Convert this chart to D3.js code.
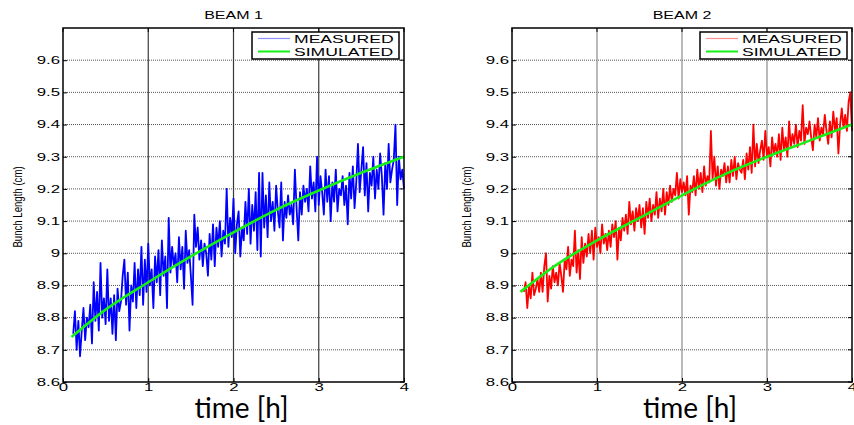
<html lang="en">
  <head>
    <meta charset="utf-8" />
    <title>Bunch length - Beam 1 / Beam 2</title>
    <script src="https://cdnjs.cloudflare.com/ajax/libs/d3/7.8.5/d3.min.js"></script>
    <style>
      body { margin: 0; background: #fff; }
      svg { display: block; }
    </style>
  </head>
  <body>
    <script type="text/javascript">
      /*************************** Data ***************************/

      var panelTitles = ["BEAM 1", "BEAM 2"];
      var legendLabels = ["MEASURED", "SIMULATED"];
      var xTicks = [0, 1, 2, 3, 4];
      var yTicks = [8.6, 8.7, 8.8, 8.9, 9, 9.1, 9.2, 9.3, 9.4, 9.5, 9.6];
      var yTickLabels = ["8.6", "8.7", "8.8", "8.9", "9", "9.1", "9.2", "9.3", "9.4", "9.5", "9.6"];

      var beam1Start = 0.12, beam2Start = 0.14, sampleStep = 0.02;
      var beam1Measured = [
        8.75, 8.82, 8.70, 8.79, 8.68, 8.76, 8.83, 8.73, 8.80, 8.77,
        8.84, 8.72, 8.91, 8.79, 8.88, 8.76, 8.97, 8.80, 8.86, 8.78,
        8.95, 8.79, 8.86, 8.75, 8.87, 8.73, 8.89, 8.82, 8.85, 8.93,
        8.98, 8.84, 8.94, 8.76, 8.90, 8.85, 8.97, 8.83, 8.95, 8.87,
        9.02, 8.84, 8.98, 8.88, 9.03, 8.90, 8.95, 8.83, 8.99, 8.91,
        9.01, 8.87, 9.04, 8.93, 8.99, 8.83, 9.11, 8.94, 9.02, 8.96,
        9.00, 8.91, 9.05, 8.95, 9.02, 8.89, 9.07, 8.97, 9.01, 8.93,
        8.84, 9.12, 9.02, 9.08, 8.98, 9.04, 8.96, 9.03, 9.00, 8.93,
        9.06, 8.98, 9.09, 8.96, 9.08, 9.02, 9.10, 8.99, 9.07, 9.03,
        9.20, 9.02, 9.11, 9.05, 9.17, 9.00, 9.09, 9.13, 8.99, 9.08,
        9.04, 9.16, 9.06, 9.20, 9.03, 9.15, 9.07, 9.19, 9.01, 9.25,
        8.99, 9.25, 9.08, 9.18, 9.05, 9.22, 9.10, 9.16, 9.07, 9.21,
        9.13, 9.08, 9.22, 9.04, 9.16, 9.11, 9.18, 9.12, 9.15, 9.09,
        9.26, 9.14, 9.04, 9.19, 9.12, 9.21, 9.16, 9.20, 9.13, 9.27,
        9.17, 9.22, 9.13, 9.30, 9.15, 9.24, 9.19, 9.12, 9.26, 9.16,
        9.24, 9.10, 9.22, 9.16, 9.26, 9.13, 9.20, 9.18, 9.24, 9.15,
        9.21, 9.09, 9.25, 9.17, 9.27, 9.14, 9.22, 9.34, 9.19, 9.26,
        9.33, 9.18, 9.28, 9.13, 9.25, 9.21, 9.30, 9.17, 9.26, 9.20,
        9.31, 9.24, 9.12, 9.28, 9.20, 9.34, 9.22, 9.26, 9.29, 9.40,
        9.15, 9.30, 9.23, 9.26, 9.20
      ];
      var beam2Measured = [
        8.88, 8.91, 8.83, 8.90, 8.86, 8.94, 8.87, 8.89, 8.92, 8.88,
        8.94, 8.88, 8.96, 9.00, 8.85, 8.93, 8.89, 8.96, 8.91, 8.94,
        8.90, 8.97, 8.93, 8.88, 8.98, 8.95, 9.02, 8.93, 8.98, 8.96,
        9.07, 8.94, 9.01, 8.92, 9.05, 8.97, 9.03, 8.99, 9.06, 9.00,
        9.07, 8.98, 9.08, 9.02, 9.05, 9.00, 9.09, 9.03, 9.06, 9.01,
        9.07, 9.02, 9.09, 9.05, 9.10, 8.98, 9.08, 9.04, 9.11, 9.07,
        9.12, 9.06, 9.16, 9.09, 9.13, 9.07, 9.14, 9.10, 9.15, 9.08,
        9.14, 9.06, 9.16, 9.11, 9.17, 9.10, 9.15, 9.12, 9.19, 9.11,
        9.17, 9.13, 9.20, 9.12, 9.19, 9.15, 9.21, 9.16, 9.20, 9.18,
        9.25, 9.17, 9.23, 9.19, 9.22, 9.18, 9.24, 9.12, 9.21, 9.19,
        9.24, 9.18, 9.26, 9.20, 9.25, 9.19, 9.27, 9.21, 9.24, 9.22,
        9.38, 9.23, 9.30, 9.21, 9.27, 9.20, 9.26, 9.24, 9.28, 9.22,
        9.27, 9.22, 9.29, 9.24, 9.30, 9.23, 9.28, 9.26, 9.25, 9.29,
        9.23, 9.31, 9.26, 9.33, 9.25, 9.40, 9.27, 9.34, 9.28, 9.32,
        9.35, 9.29, 9.38, 9.30, 9.33, 9.27, 9.36, 9.31, 9.34, 9.30,
        9.37, 9.29, 9.39, 9.32, 9.36, 9.30, 9.41, 9.33, 9.37, 9.34,
        9.40, 9.33, 9.38, 9.35, 9.46, 9.34, 9.39, 9.37, 9.41, 9.36,
        9.32, 9.40, 9.36, 9.42, 9.35, 9.39, 9.37, 9.43, 9.38, 9.34,
        9.41, 9.36, 9.44, 9.38, 9.42, 9.31, 9.40, 9.45, 9.39, 9.43,
        9.38, 9.47, 9.50, 9.38
      ];

      var simTime = [0.1, 0.5, 1, 1.5, 2, 2.5, 3, 3.5, 4];
      var beam1Simulated = [8.74, 8.825, 8.91, 8.99, 9.065, 9.135, 9.195, 9.25, 9.30];
      var beam2Simulated = [8.88, 8.96, 9.04, 9.11, 9.18, 9.245, 9.30, 9.35, 9.40];

      /*************************** Canvas ***************************/

      var W = 854, H = 425;
      var svg = d3.select("body").append("svg")
        .attr("width", W).attr("height", H)
        .style("font-family", "'Liberation Sans', Arial, sans-serif");

      var SX = 1.6; // the original picture is squashed vertically

      function toPoints(start, vals) {
        return vals.map(function (v, i) { return [start + i * sampleStep, v]; });
      }

      var panels = [
        { left: 63, right: 404, title: panelTitles[0], color: "#0000ff", legendColor: "#8f8fff",
          gridColor: "#3a3a3a", meas: toPoints(beam1Start, beam1Measured), sim: beam1Simulated, ylab: 22 },
        { left: 512, right: 852, title: panelTitles[1], color: "#ff0000", legendColor: "#ff9090",
          gridColor: "#8a8a8a", meas: toPoints(beam2Start, beam2Measured), sim: beam2Simulated, ylab: 471 }
      ];

      var plotTop = 28, plotBottom = 382;

      panels.forEach(function (p) {
        var x = d3.scaleLinear().domain([0, 4]).range([p.left, p.right]);
        var y = d3.scaleLinear().domain([8.6, 9.7]).range([plotBottom, plotTop]);
        var g = svg.append("g");

        // grid
        g.selectAll(".hgrid").data(yTicks.slice(1)).enter().append("line")
          .attr("x1", p.left).attr("x2", p.right)
          .attr("y1", function (d) { return y(d); }).attr("y2", function (d) { return y(d); })
          .attr("stroke", "#555").attr("stroke-width", 1).attr("stroke-dasharray", "1,1");
        g.selectAll(".vgrid").data(xTicks.slice(1, 4)).enter().append("line")
          .attr("y1", plotTop).attr("y2", plotBottom)
          .attr("x1", function (d) { return x(d); }).attr("x2", function (d) { return x(d); })
          .attr("stroke", p.gridColor).attr("stroke-width", 1.2);

        // axes with inward ticks
        var ya = g.append("g").attr("transform", "translate(" + p.left + ",0)")
          .call(d3.axisLeft(y).tickValues(yTicks).tickSizeInner(-4).tickSizeOuter(0).tickPadding(3)
            .tickFormat(function (d, i) { return yTickLabels[i]; }));
        ya.select(".domain").remove();
        ya.selectAll("text").attr("font-size", 10.5).attr("font-family", "'Liberation Sans', Arial, sans-serif")
          .attr("fill", "#000")
          .attr("transform", "scale(" + SX + ",1)")
          .attr("x", -3 / SX);

        var xa = g.append("g").attr("transform", "translate(0," + plotBottom + ")")
          .call(d3.axisBottom(x).tickValues(xTicks).tickSizeInner(-4).tickSizeOuter(0).tickPadding(2)
            .tickFormat(d3.format("d")));
        xa.select(".domain").remove();
        xa.selectAll("text").attr("font-size", 10.5).attr("font-family", "'Liberation Sans', Arial, sans-serif")
          .attr("fill", "#000").attr("transform", "scale(" + SX + ",1)");

        // right/top ticks
        g.selectAll(".rt").data(yTicks).enter().append("line")
          .attr("x1", p.right).attr("x2", p.right - 4)
          .attr("y1", function (d) { return y(d); }).attr("y2", function (d) { return y(d); })
          .attr("stroke", "#000");
        g.selectAll(".tt").data(xTicks).enter().append("line")
          .attr("y1", plotTop).attr("y2", plotTop + 4)
          .attr("x1", function (d) { return x(d); }).attr("x2", function (d) { return x(d); })
          .attr("stroke", "#000");

        // series
        var line = d3.line().x(function (d) { return x(d[0]); }).y(function (d) { return y(d[1]); });
        g.append("path").datum(p.meas).attr("d", line)
          .attr("fill", "none").attr("stroke", p.color).attr("stroke-width", 1.8)
          .attr("stroke-linejoin", "round");
        var simPts = simTime.map(function (t, i) { return [t, p.sim[i]]; });
        g.append("path").datum(simPts).attr("d", line.curve(d3.curveMonotoneX))
          .attr("fill", "none").attr("stroke", "#17f017").attr("stroke-width", 2.6);

        // frame
        g.append("rect").attr("x", p.left).attr("y", plotTop)
          .attr("width", p.right - p.left).attr("height", plotBottom - plotTop)
          .attr("fill", "none").attr("stroke", "#000").attr("stroke-width", 1.5);

        // title
        g.append("text")
          .attr("transform", "translate(" + ((p.left + p.right) / 2) + ",19) scale(" + SX + ",1)")
          .attr("text-anchor", "middle").attr("font-size", 10).text(p.title);

        // y label
        g.append("text")
          .attr("transform", "translate(" + p.ylab + ",207) rotate(-90) scale(0.74,1)")
          .attr("text-anchor", "middle").attr("font-size", 13).text("Bunch Length (cm)");

        // x label
        g.append("text")
          .attr("x", (p.left + p.right) / 2 + 8).attr("y", 418)
          .attr("text-anchor", "middle").attr("font-family", "Lato, 'Open Sans', sans-serif")
          .attr("font-size", 28).text("time [h]");

        // legend
        var lx = p.right - 152, ly = 32;
        var lg = g.append("g").attr("transform", "translate(" + lx + "," + ly + ")");
        lg.append("rect").attr("width", 147).attr("height", 27)
          .attr("fill", "#fff").attr("stroke", "#000").attr("stroke-width", 1.5);
        var legendColors = [p.legendColor, "#17f017"];
        var legendWidths = [1.2, 2];
        legendLabels.forEach(function (lab, i) {
          var yy = 6.5 + i * 13;
          lg.append("line").attr("x1", 6).attr("x2", 38).attr("y1", yy).attr("y2", yy)
            .attr("stroke", legendColors[i]).attr("stroke-width", legendWidths[i]);
          lg.append("text")
            .attr("transform", "translate(42," + (yy + 4) + ") scale(" + SX + ",1)")
            .attr("font-size", 11).text(lab);
        });
      });
    </script>
  </body>
</html>
